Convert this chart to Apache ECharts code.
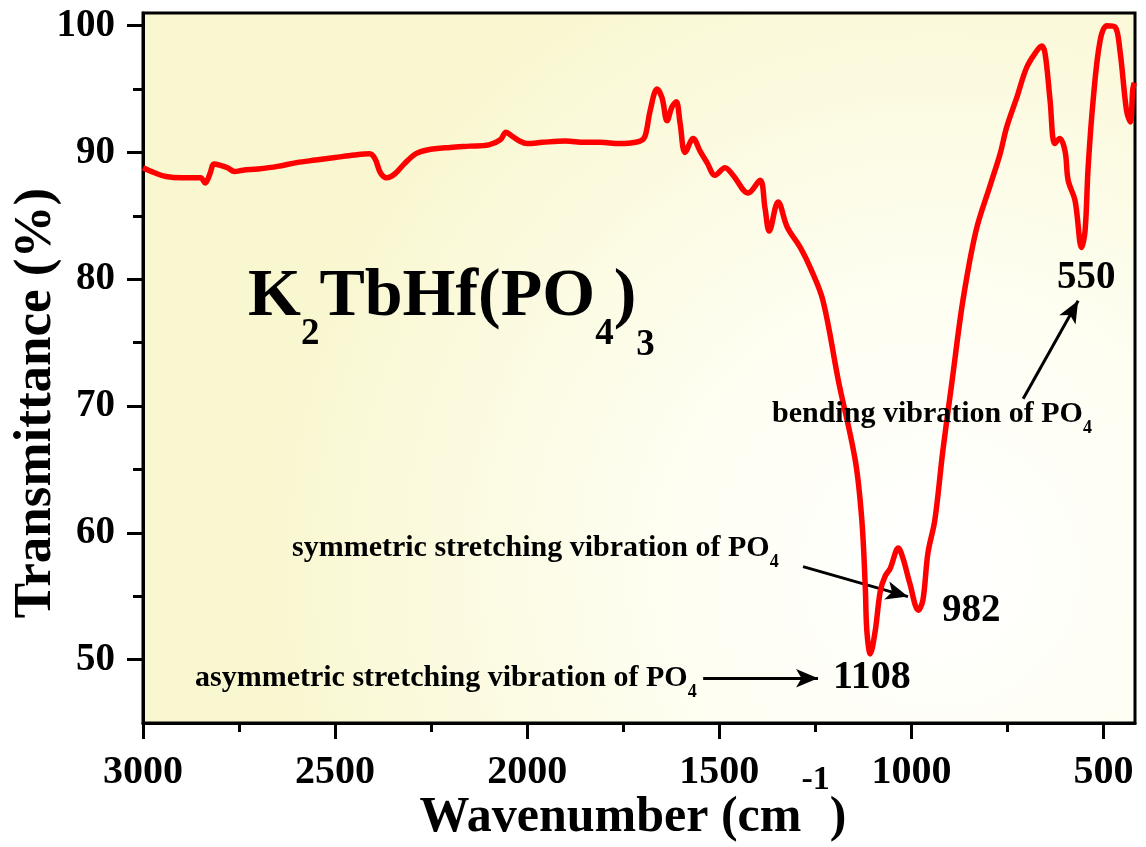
<!DOCTYPE html>
<html><head><meta charset="utf-8">
<script src="https://cdn.jsdelivr.net/npm/echarts@6/dist/echarts.min.js"></script>
<style>html,body{margin:0;padding:0;background:#fff}#c{width:1146px;height:847px}</style>
</head><body><div id="c"></div><script>
// FT-IR spectrum of K2TbHf(PO4)3
const wavenumber = [3000,2970,2940,2900,2870,2850,2838,2826,2815,2800,2780,2762,2740,2700,2650,2600,2550,2500,2450,2410,2396,2382,2366,2345,2320,2290,2260,2200,2150,2100,2070,2055,2040,2020,2000,1960,1900,1850,1810,1760,1706,1693,1680,1662,1649,1636,1623,1612,1602,1589,1568,1550,1532,1511,1485,1464,1425,1394,1381,1370,1347,1323,1289,1263,1230,1190,1146,1129,1120,1116,1107,1094,1081,1068,1055,1034,1022,1004,982,970,957,939,918,894,866,832,795,769,752,726,700,674,661,652,639,627,614,600,592,574,557,548,540,527,509,491,470,457,440,430,424,420];
const transmittance = [88.8,88.4,88.1,88.0,88.0,88.0,87.6,88.3,89.1,89.0,88.8,88.5,88.6,88.7,88.9,89.2,89.4,89.6,89.8,89.9,89.5,88.4,88.0,88.3,89.1,89.9,90.2,90.4,90.5,90.6,91.0,91.6,91.3,90.9,90.7,90.8,90.9,90.8,90.8,90.7,90.9,91.3,93.3,95.0,94.3,92.5,93.6,94.0,92.3,90.0,91.1,90.1,89.2,88.2,88.8,88.2,86.8,87.8,85.6,83.8,86.1,84.1,82.5,80.9,78.3,72.0,65.7,61.0,55.7,52.3,50.45,52.3,55.4,56.6,57.2,58.8,58.0,56.0,53.9,54.7,58.4,61.0,66.5,72.0,78.3,83.8,87.4,89.9,92.0,94.3,96.7,98.0,98.4,97.8,94.1,90.7,91.1,90.1,87.8,86.2,82.5,83.8,88.8,94.1,98.8,100.0,99.9,98.0,93.3,92.4,94.9,95.5];
const xMajorTicks = [3000,2500,2000,1500,1000,500];
const xMinorTicks = [2750,2250,1750,1250,750];
const yMajorTicks = [50,60,70,80,90,100];
const yMinorTicks = [55,65,75,85,95];
const xRange = [418, 3000];
const yRange = [45, 101];
// annotation arrows in data coordinates [from, to]
const arrows = [
  [[1542,48.53],[1243,48.53]],
  [[1282,57.33],[1009,54.97]],
  [[709,70.58],[566,78.31]]
];

const FF = "'Liberation Serif','Times New Roman',serif";
const seriesData = wavenumber.map((w,i)=>[w, transmittance[i]]);

function subLabel(x, baseline, main, sub, F, f, drop){
  const B = baseline + drop + 0.2*f;
  const pm = B - 0.2*F - baseline;
  return {type:'text', x:x, y:B - F - pm, z:20,
    style:{text:'{m|'+main+'}{s|'+sub+'}', align:'left', verticalAlign:'top',
      rich:{
        m:{fontSize:F, fontWeight:'bold', fontFamily:FF, fill:'#000', verticalAlign:'bottom', padding:[0,0,pm,0]},
        s:{fontSize:f, fontWeight:'bold', fontFamily:FF, fill:'#000', verticalAlign:'bottom'}
      }}};
}
function plainLabel(x, baseline, text, F){
  return {type:'text', x:x, y:baseline-0.8*F, z:20,
    style:{text:text, fontSize:F, fontWeight:'bold', fontFamily:FF, fill:'#000', align:'left', verticalAlign:'top'}};
}
// formula K2TbHf(PO4)3
const fF = 68, ff = 37, fBase = 318;
const fB = fBase + 39 + 0.2*ff;
const fPm = fB - 0.2*fF - fBase;
const fPs = fB - 0.2*ff - 346;
const formula = {type:'text', x:248, y:fB - fF - fPm, z:20,
  style:{text:'{m|K}{s|2}{m|TbHf(PO}{s|4}{m|)}{t|3}', align:'left', verticalAlign:'top',
    rich:{
      m:{fontSize:fF, fontWeight:'bold', fontFamily:FF, fill:'#000', verticalAlign:'bottom', padding:[0,0,fPm,0]},
      s:{fontSize:ff, fontWeight:'bold', fontFamily:FF, fill:'#000', verticalAlign:'bottom', padding:[0,0,fPs,0]},
      t:{fontSize:ff, fontWeight:'bold', fontFamily:FF, fill:'#000', verticalAlign:'bottom'}
    }}};

const chart = echarts.init(document.getElementById('c'), null, {renderer:'canvas'});
const bg = new echarts.graphic.RadialGradient(0.8, 0.78, 0.95, [
  {offset:0, color:'#ffffff'},
  {offset:0.4, color:'#fefef2'},
  {offset:1, color:'#f9f7d0'}
]);
const tickLabel = {fontSize:40, fontWeight:'bold', fontFamily:FF, color:'#000'};
chart.setOption({
  animation:false,
  backgroundColor:'#ffffff',
  grid:{left:143, right:11, top:13, bottom:124, containLabel:false, outerBoundsMode:'none',
        show:true, borderColor:'#000', borderWidth:3, backgroundColor:bg},
  xAxis:[{
    type:'value', min:xRange[0], max:xRange[1], inverse:true, position:'bottom',
    name:'{t|Wavenumber (cm}{p|-1}{t|)}', nameLocation:'middle', nameGap:40, nameMoveOverlap:false,
    nameTextStyle:{padding:[0,12,0,0], rich:{
      t:{fontSize:50, fontWeight:'bold', fontFamily:FF, color:'#000', verticalAlign:'bottom', padding:[30,0,0,0]},
      p:{fontSize:34, fontWeight:'bold', fontFamily:FF, color:'#000', verticalAlign:'top'}
    }},
    axisLine:{show:true, onZero:false, lineStyle:{color:'#000', width:3}},
    axisTick:{show:true, length:16, lineStyle:{color:'#000', width:3}, customValues:xMajorTicks},
    axisLabel:{...tickLabel, margin:30, customValues:xMajorTicks, formatter:v=>String(v)},
    splitLine:{show:false}
  },{
    type:'value', min:xRange[0], max:xRange[1], inverse:true, position:'bottom',
    axisLine:{show:false},
    axisTick:{show:true, length:9, lineStyle:{color:'#000', width:3}, customValues:xMinorTicks},
    axisLabel:{show:false},
    splitLine:{show:false}
  }],
  yAxis:[{
    type:'value', min:yRange[0], max:yRange[1], position:'left',
    name:'Transmittance (%)', nameLocation:'middle', nameGap:80, nameRotate:90, nameMoveOverlap:false,
    nameTextStyle:{fontSize:53, fontWeight:'bold', fontFamily:FF, color:'#000', padding:[0,70,0,0]},
    axisLine:{show:true, onZero:false, lineStyle:{color:'#000', width:3}},
    axisTick:{show:true, length:16, lineStyle:{color:'#000', width:3}, customValues:yMajorTicks},
    axisLabel:{fontSize:39, fontWeight:'bold', fontFamily:FF, color:'#000', margin:28, customValues:yMajorTicks, formatter:v=>String(v)},
    splitLine:{show:false}
  },{
    type:'value', min:yRange[0], max:yRange[1], position:'left',
    axisLine:{show:false},
    axisTick:{show:true, length:10, lineStyle:{color:'#000', width:3}, customValues:yMinorTicks},
    axisLabel:{show:false},
    splitLine:{show:false}
  }],
  series:[{
    type:'line', data:seriesData, xAxisIndex:0, yAxisIndex:0,
    smooth:0.35, showSymbol:false, symbol:'none',
    lineStyle:{color:'#ff0000', width:5.5}, z:5,
    markLine:{
      silent:true, symbol:['none','arrow'], symbolSize:[14,22],
      label:{show:false},
      lineStyle:{color:'#000', width:3, type:'solid'},
      emphasis:{disabled:true},
      data: arrows.map(a=>[{coord:a[0]},{coord:a[1]}])
    }
  }],
  graphic:[
    formula,
    subLabel(772, 423, 'bending vibration of PO', '4', 30, 18, 11),
    subLabel(292, 557, 'symmetric stretching vibration of PO', '4', 30, 18, 11),
    subLabel(195, 687, 'asymmetric stretching vibration of PO', '4', 30, 18, 11),
    plainLabel(833, 690, '1108', 40),
    plainLabel(942, 623, '982', 39),
    plainLabel(1057, 290, '550', 39)
  ]
});
</script></body></html>
